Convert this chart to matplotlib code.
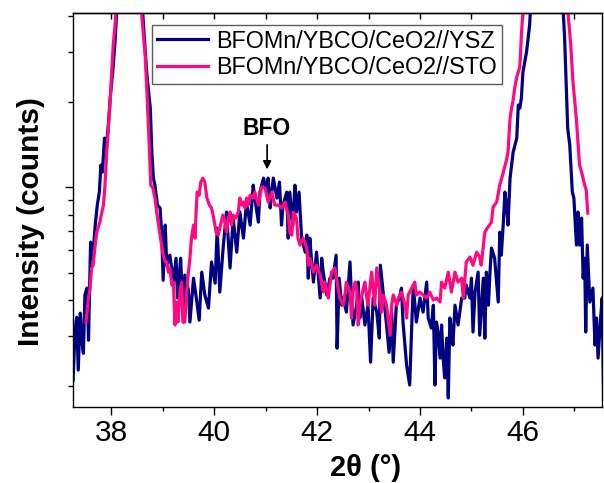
import numpy as np
import matplotlib
matplotlib.use("Agg")
import matplotlib.pyplot as plt
from matplotlib.ticker import MultipleLocator, LogLocator, NullFormatter

plt.rcParams['font.family'] = ['Liberation Sans', 'DejaVu Sans']

# BFOMn/YBCO/CeO2//YSZ
tt_ysz = [37.26, 37.30, 37.33, 37.36, 37.40, 37.43, 37.46, 37.49, 37.53, 37.56,
          37.60, 37.64, 37.69, 37.73, 37.77, 37.80, 37.83, 37.87, 37.90, 37.95,
          37.98, 38.03, 38.08, 38.13, 38.23, 38.35, 38.46, 38.58, 38.69, 38.76,
          38.79, 38.82, 38.85, 38.90, 38.95, 38.98, 39.01, 39.05, 39.08, 39.14,
          39.21, 39.26, 39.29, 39.35, 39.40, 39.43, 39.50, 39.53, 39.60, 39.66,
          39.71, 39.76, 39.82, 39.89, 39.95, 40.02, 40.06, 40.11, 40.18, 40.24,
          40.31, 40.37, 40.44, 40.50, 40.57, 40.63, 40.70, 40.76, 40.79, 40.86,
          40.89, 40.96, 41.02, 41.05, 41.09, 41.12, 41.15, 41.22, 41.27, 41.31,
          41.34, 41.41, 41.44, 41.47, 41.53, 41.57, 41.60, 41.65, 41.70, 41.77,
          41.80, 41.83, 41.86, 41.90, 41.93, 41.99, 42.06, 42.09, 42.12, 42.19,
          42.25, 42.31, 42.37, 42.39, 42.43, 42.48, 42.51, 42.57, 42.64, 42.67,
          42.70, 42.77, 42.80, 42.83, 42.87, 42.93, 42.99, 43.04, 43.09, 43.16,
          43.21, 43.23, 43.29, 43.35, 43.40, 43.45, 43.48, 43.54, 43.60, 43.64,
          43.67, 43.74, 43.80, 43.84, 43.87, 43.93, 44.00, 44.06, 44.13, 44.16,
          44.22, 44.26, 44.29, 44.32, 44.35, 44.39, 44.42, 44.45, 44.48, 44.52,
          44.55, 44.58, 44.61, 44.64, 44.68, 44.74, 44.81, 44.87, 44.90, 44.97,
          45.00, 45.03, 45.07, 45.13, 45.16, 45.23, 45.26, 45.29, 45.33, 45.36,
          45.39, 45.45, 45.52, 45.55, 45.58, 45.62, 45.65, 45.68, 45.71, 45.75,
          45.81, 45.88, 45.91, 45.94, 45.97, 46.00, 46.07, 46.13, 46.23, 46.35,
          46.46, 46.58, 46.70, 46.81, 46.87, 46.91, 46.96, 46.99, 47.04, 47.07,
          47.10, 47.14, 47.17, 47.20, 47.22, 47.25, 47.30, 47.36, 47.40, 47.43,
          47.46, 47.51, 47.54, 47.57]
cnt_ysz = [209, 314, 348, 227, 360, 289, 260, 417, 441, 289,
           640, 562, 735, 864, 960, 1195, 1129, 1488, 1328, 1694,
           2058, 2541, 3346, 5000, 15000, 30000, 15000, 5000, 2541, 1898,
           1328, 1076, 1016, 864, 844, 694, 470, 735, 531, 576,
           463, 562, 407, 562, 335, 490, 434, 335, 478, 400,
           340, 502, 417, 375, 545, 459, 717, 427, 625, 817,
           519, 778, 590, 817, 661, 886, 735, 1016, 915, 753,
           960, 1076, 960, 1076, 844, 960, 1076, 915, 1041, 735,
           864, 960, 661, 960, 735, 1016, 817, 960, 661, 590,
           678, 478, 661, 531, 463, 590, 407, 562, 502, 417,
           478, 478, 576, 271, 478, 384, 407, 363, 545, 407,
           327, 384, 463, 346, 407, 327, 384, 242, 407, 363,
           294, 531, 417, 327, 262, 363, 242, 384, 407, 441,
           335, 236, 201, 327, 452, 335, 407, 363, 463, 346,
           319, 384, 201, 335, 309, 250, 327, 250, 213, 294,
           181, 346, 314, 278, 384, 327, 407, 407, 452, 407,
           478, 309, 427, 502, 301, 478, 294, 502, 384, 502,
           610, 562, 394, 694, 576, 753, 960, 864, 735, 1076,
           1328, 1488, 1945, 1898, 2058, 2541, 2988, 3719, 8000, 20000,
           40000, 20000, 8000, 3346, 1613, 1406, 960, 915, 625, 817,
           625, 778, 478, 562, 309, 625, 394, 441, 278, 346,
           250, 346, 407, 171]

# BFOMn/YBCO/CeO2//STO
tt_sto = [37.51, 37.56, 37.59, 37.62, 37.65, 37.69, 37.72, 37.75, 37.78, 37.82,
          37.85, 37.88, 37.91, 37.95, 37.98, 38.01, 38.04, 38.08, 38.15, 38.35,
          38.54, 38.59, 38.66, 38.70, 38.74, 38.77, 38.81, 38.85, 38.90, 38.95,
          39.00, 39.05, 39.08, 39.11, 39.14, 39.18, 39.21, 39.24, 39.27, 39.30,
          39.34, 39.37, 39.40, 39.43, 39.47, 39.50, 39.53, 39.56, 39.60, 39.63,
          39.65, 39.67, 39.71, 39.74, 39.78, 39.82, 39.86, 39.91, 39.95, 39.98,
          40.04, 40.08, 40.11, 40.17, 40.21, 40.24, 40.28, 40.31, 40.34, 40.37,
          40.42, 40.47, 40.50, 40.54, 40.57, 40.60, 40.63, 40.66, 40.70, 40.76,
          40.79, 40.86, 40.92, 40.99, 41.05, 41.12, 41.18, 41.25, 41.31, 41.38,
          41.44, 41.47, 41.51, 41.54, 41.60, 41.63, 41.67, 41.73, 41.80, 41.83,
          41.86, 41.93, 41.99, 42.06, 42.12, 42.15, 42.22, 42.28, 42.35, 42.39,
          42.44, 42.51, 42.54, 42.57, 42.64, 42.67, 42.70, 42.74, 42.77, 42.80,
          42.83, 42.90, 42.93, 42.96, 42.99, 43.06, 43.12, 43.16, 43.22, 43.25,
          43.29, 43.35, 43.42, 43.45, 43.48, 43.55, 43.58, 43.64, 43.71, 43.74,
          43.77, 43.84, 43.90, 43.93, 44.00, 44.06, 44.13, 44.19, 44.26, 44.32,
          44.39, 44.42, 44.48, 44.55, 44.61, 44.68, 44.74, 44.81, 44.84, 44.90,
          44.97, 45.03, 45.10, 45.16, 45.19, 45.26, 45.32, 45.39, 45.42, 45.49,
          45.55, 45.62, 45.68, 45.71, 45.75, 45.78, 45.81, 45.84, 45.88, 45.91,
          45.94, 45.97, 46.08, 46.27, 46.45, 46.64, 46.81, 46.88, 46.93, 46.97,
          47.04, 47.10, 47.13, 47.20, 47.23, 47.26]
cnt_sto = [335, 407, 441, 519, 531, 625, 694, 723, 753, 817,
           864, 1016, 1296, 1653, 1992, 2541, 3162, 3810, 6000, 25000,
           6000, 4097, 2916, 2058, 1406, 1016, 992, 915, 778, 678,
           590, 545, 545, 502, 519, 452, 463, 327, 394, 335,
           434, 463, 335, 335, 434, 502, 562, 661, 735, 661,
           817, 960, 937, 1041, 1076, 1041, 915, 864, 844, 797,
           694, 678, 717, 797, 753, 694, 778, 817, 735, 797,
           778, 817, 915, 864, 886, 844, 915, 864, 937, 915,
           960, 864, 1000, 992, 886, 960, 864, 864, 844, 886,
           797, 694, 678, 817, 778, 661, 625, 661, 610, 531,
           562, 502, 531, 490, 427, 463, 407, 502, 519, 463,
           407, 384, 417, 463, 427, 346, 427, 463, 441, 327,
           384, 441, 463, 417, 384, 502, 384, 519, 427, 363,
           417, 384, 301, 384, 417, 384, 407, 427, 384, 346,
           417, 441, 463, 417, 427, 417, 407, 427, 400, 407,
           394, 463, 441, 502, 427, 502, 463, 478, 407, 545,
           567, 531, 590, 567, 531, 694, 723, 753, 850, 886,
           1016, 1129, 1245, 1328, 1749, 1898, 2025, 2231, 2440, 2541,
           2646, 3429, 7000, 25000, 40000, 25000, 7000, 4033, 3162, 2380,
           1721, 1195, 1148, 1016, 976, 810]

fig = plt.figure(figsize=(6.04, 4.83), dpi=100)
ax = fig.add_axes([0.121, 0.157, 0.876, 0.816])

ax.plot(tt_ysz, cnt_ysz, color='#000080', lw=2.3, label='BFOMn/YBCO/CeO2//YSZ')
ax.plot(tt_sto, cnt_sto, color='#FF0A80', lw=2.3, label='BFOMn/YBCO/CeO2//STO')

ax.set_yscale('log')
ax.set_xlim(37.26, 47.54)
ax.set_ylim(168, 4100)

ax.xaxis.set_major_locator(MultipleLocator(2))
ax.xaxis.set_minor_locator(MultipleLocator(1))
ax.yaxis.set_major_locator(LogLocator(base=10))
ax.yaxis.set_minor_locator(LogLocator(base=10, subs=np.arange(2, 10)))
ax.yaxis.set_major_formatter(NullFormatter())
ax.yaxis.set_minor_formatter(NullFormatter())

ax.tick_params(axis='x', which='major', direction='out', length=5.5, width=1,
               labelsize=21.5, pad=3)
ax.tick_params(axis='x', which='minor', direction='out', length=2.7, width=1)
ax.tick_params(axis='y', which='major', direction='out', length=5.5, width=1)
ax.tick_params(axis='y', which='minor', direction='out', length=3.3, width=1)

# inward ticks along the top edge
top = ax.secondary_xaxis('top')
top.xaxis.set_major_locator(MultipleLocator(1))
top.tick_params(axis='x', which='major', direction='in', length=4, width=1,
                labeltop=False)

for s in ax.spines.values():
    s.set_linewidth(1)
top.spines['top'].set_linewidth(1)

ax.set_xlabel('2θ (°)', fontsize=21, fontweight='bold')
ax.xaxis.set_label_coords(0.552, -0.12)
ax.set_ylabel('Intensity (counts)', fontsize=21.5, fontweight='bold')
ax.yaxis.set_label_coords(-0.053, 0.47)

ax.annotate('', xy=(41.03, 1129), xytext=(41.03, 1440),
            arrowprops=dict(arrowstyle='-|>', color='k', lw=1.2, mutation_scale=12))
ax.text(41.03, 1613, 'BFO', ha='center', va='center', fontsize=16.5,
        fontweight='bold')

leg = ax.legend(loc='upper left', bbox_to_anchor=(0.149, 0.970), borderaxespad=0,
                fontsize=16.8, frameon=True, fancybox=False, handlelength=2.2,
                handletextpad=0.35, borderpad=0.2, labelspacing=0.17)
leg.get_frame().set_edgecolor('#333333')
leg.get_frame().set_linewidth(1)

fig.savefig('out.png', dpi=100)
